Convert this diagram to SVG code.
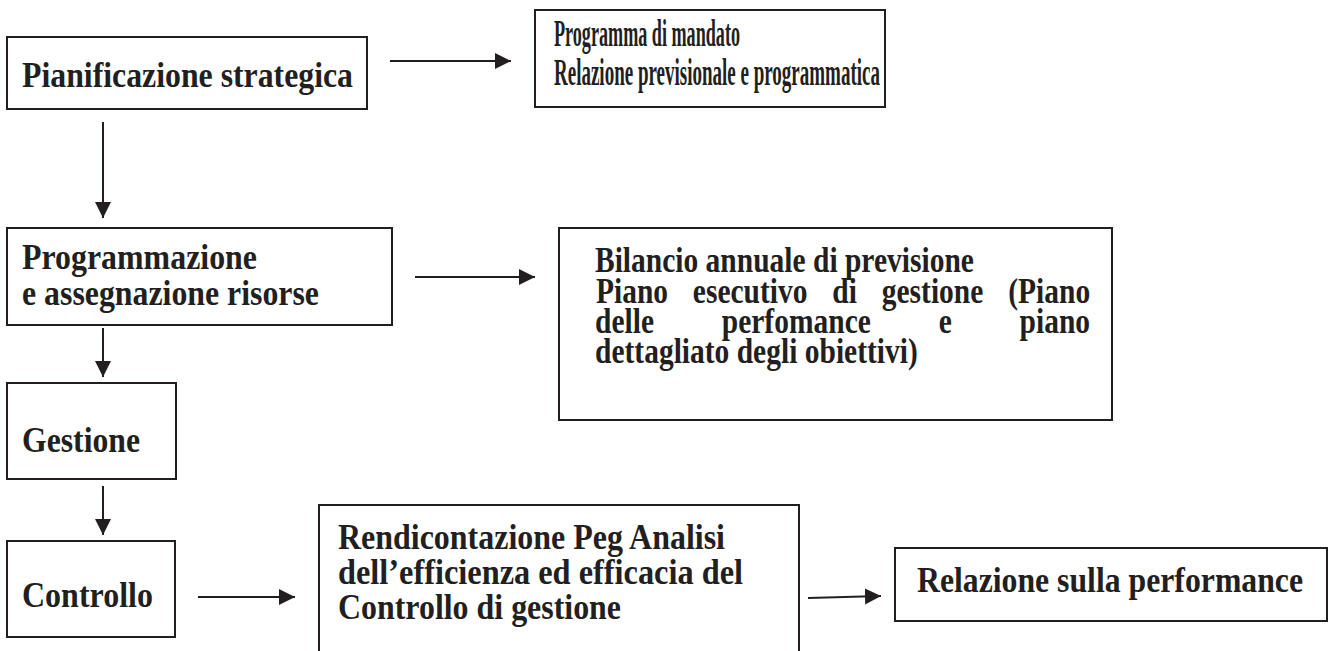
<svg xmlns="http://www.w3.org/2000/svg" width="1330" height="651" viewBox="0 0 1330 651">
<style>
.box{fill:#fff;stroke:#231f20;stroke-width:2}
.t{font-family:"Liberation Serif","Times New Roman",serif;font-weight:bold;font-size:36px;fill:#231f20}
.s{font-size:35px}
.b{font-size:38px}
.c{stroke:#231f20;stroke-width:2;fill:none}
</style>
<defs>
<marker id="ah" markerUnits="userSpaceOnUse" markerWidth="18" markerHeight="18" refX="16" refY="8" orient="auto">
<path d="M0,0 L16,8 L0,16 z" fill="#231f20"/>
</marker>
</defs>
<rect width="1330" height="651" fill="#fff"/>
<g id="n1">
<rect class="box" x="7" y="37" width="360" height="72"/>
<text class="t" x="22" y="87" textLength="331" lengthAdjust="spacingAndGlyphs">Pianificazione strategica</text>
</g>
<g id="n2">
<rect class="box" x="535" y="10" width="350" height="97"/>
<text class="t b" x="554" y="46" textLength="186" lengthAdjust="spacingAndGlyphs">Programma di mandato</text>
<text class="t b" x="554" y="85" textLength="326" lengthAdjust="spacingAndGlyphs">Relazione previsionale e programmatica</text>
</g>
<g id="n3">
<rect class="box" x="7" y="228" width="385" height="97"/>
<text class="t" x="22" y="269" textLength="235" lengthAdjust="spacingAndGlyphs">Programmazione</text>
<text class="t" x="22" y="305" textLength="297" lengthAdjust="spacingAndGlyphs">e assegnazione risorse</text>
</g>
<g id="n4">
<rect class="box" x="559" y="228" width="553" height="192"/>
<text class="t s" transform="translate(595,272) scale(0.843,1)" x="0" y="0">Bilancio annuale di previsione</text>
<text class="t s" transform="translate(596,303) scale(0.843,1)" y="0"><tspan x="0">Piano</tspan><tspan x="114.9">esecutivo</tspan><tspan x="280.4">di</tspan><tspan x="339">gestione</tspan><tspan x="489">(Piano</tspan></text>
<text class="t s" transform="translate(595,333) scale(0.843,1)" y="0"><tspan x="0">delle</tspan><tspan x="150.4">perfomance</tspan><tspan x="407.7">e</tspan><tspan x="503.7">piano</tspan></text>
<text class="t s" transform="translate(595,363) scale(0.843,1)" x="0" y="0">dettagliato degli obiettivi)</text>
</g>
<g id="n5">
<rect class="box" x="7" y="383" width="169" height="96"/>
<text class="t" x="22" y="452" textLength="118" lengthAdjust="spacingAndGlyphs">Gestione</text>
</g>
<g id="n6">
<rect class="box" x="7" y="541" width="168" height="96"/>
<text class="t" x="22" y="607" textLength="131" lengthAdjust="spacingAndGlyphs">Controllo</text>
</g>
<g id="n7">
<rect class="box" x="319" y="505" width="480" height="170"/>
<text class="t" x="338" y="549" textLength="387" lengthAdjust="spacingAndGlyphs">Rendicontazione Peg Analisi</text>
<text class="t" x="338" y="584" textLength="405" lengthAdjust="spacingAndGlyphs">dell’efficienza ed efficacia del</text>
<text class="t" x="338" y="619" textLength="283" lengthAdjust="spacingAndGlyphs">Controllo di gestione</text>
</g>
<g id="n8">
<rect class="box" x="895" y="548" width="432" height="73"/>
<text class="t" x="917" y="592" textLength="386" lengthAdjust="spacingAndGlyphs">Relazione sulla performance</text>
</g>
<g id="connectors">
<line class="c" x1="390" y1="61" x2="511" y2="61" marker-end="url(#ah)"/>
<line class="c" x1="103" y1="122" x2="103" y2="218" marker-end="url(#ah)"/>
<line class="c" x1="415" y1="277" x2="535" y2="277" marker-end="url(#ah)"/>
<line class="c" x1="103" y1="328" x2="103" y2="377" marker-end="url(#ah)"/>
<line class="c" x1="103" y1="486" x2="103" y2="535" marker-end="url(#ah)"/>
<line class="c" x1="198" y1="597" x2="295" y2="597" marker-end="url(#ah)"/>
<line class="c" x1="808" y1="598" x2="881" y2="596" marker-end="url(#ah)"/>
</g>
</svg>
